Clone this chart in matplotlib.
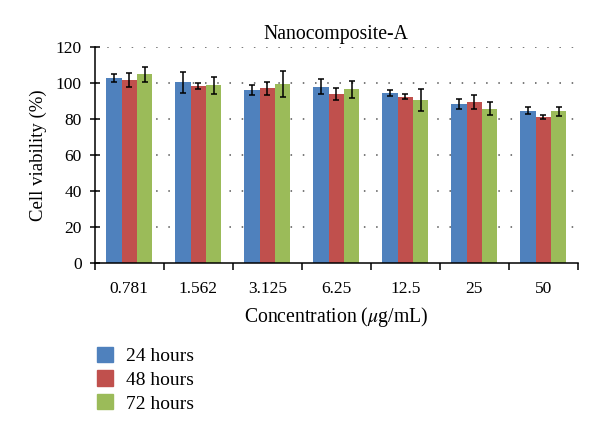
import numpy as np
import matplotlib
matplotlib.use('Agg')
import matplotlib.pyplot as plt
from matplotlib.patches import Patch
from matplotlib.ticker import FixedLocator

plt.rcParams['font.family'] = ['Liberation Serif', 'DejaVu Serif']
plt.rcParams['mathtext.fontset'] = 'stix'

# cell viability (%)
concentrations = ['0.781', '1.562', '3.125', '6.25', '12.5', '25', '50']
series = ['24 hours', '48 hours', '72 hours']
viab_24 = [102.8, 100.5, 96.1, 98.0, 94.6, 88.3, 84.6]
viab_48 = [101.8, 98.3, 97.0, 93.7, 92.4, 89.6, 81.1]
viab_72 = [105.0, 98.7, 99.4, 96.5, 90.5, 85.7, 84.2]
err_24 = [2.2, 5.9, 2.7, 4.3, 1.8, 2.6, 2.0]
err_48 = [3.9, 1.7, 3.6, 3.3, 1.3, 3.9, 1.1]
err_72 = [4.2, 4.6, 7.1, 4.6, 6.0, 3.6, 2.3]
colors = ['#4F81BD', '#C0504D', '#9BBB59']

fig = plt.figure(figsize=(6, 4.36), dpi=100)
ax = fig.add_axes([0.158, 0.397, 0.805, 0.495])

x = np.arange(len(concentrations))
w = 0.222
vals = [viab_24, viab_48, viab_72]
errs = [err_24, err_48, err_72]
for i in range(3):
    ax.bar(x + (i - 1) * w, vals[i], w, color=colors[i], zorder=2,
           yerr=errs[i], error_kw=dict(ecolor='black', elinewidth=1.1, capsize=2.5, capthick=1.1, zorder=3))

ax.set_xlim(-0.5, len(concentrations) - 0.5)
ax.set_ylim(0, 120)
ax.set_yticks(np.arange(0, 121, 20))
ax.set_xticks(x)
ax.set_xticklabels(concentrations)
ax.xaxis.set_minor_locator(FixedLocator(np.arange(-0.5, len(concentrations), 1)))
ax.tick_params(axis='x', which='major', length=0, labelsize=12.5, pad=13)
ax.tick_params(axis='x', which='minor', length=5, width=1.1, direction='out')
ax.tick_params(axis='y', length=7, width=1.1, direction='inout', labelsize=12.5, pad=6)

for v in range(20, 121, 20):
    ax.axhline(v, color='#555555', linestyle=(0, (1, 7)), linewidth=1.1, zorder=1)

ax.spines['top'].set_visible(False)
ax.spines['right'].set_visible(False)
ax.spines['left'].set_linewidth(1.1)
ax.spines['bottom'].set_linewidth(1.1)

ax.set_title('Nanocomposite-A', fontsize=14.2, pad=6)
ax.set_ylabel('Cell viability (%)', fontsize=13.5, labelpad=6)
ax.set_xlabel(r'Concentration ($\mu$g/mL)', fontsize=14.2, labelpad=6)

handles = [Patch(color=c) for c in colors]
fig.legend(handles, series, loc='upper left', bbox_to_anchor=(0.133, 0.245),
           frameon=False, fontsize=14, handlelength=0.82, handleheight=0.82,
           handletextpad=0.65, labelspacing=0.28)

fig.savefig('out.png', dpi=100)
